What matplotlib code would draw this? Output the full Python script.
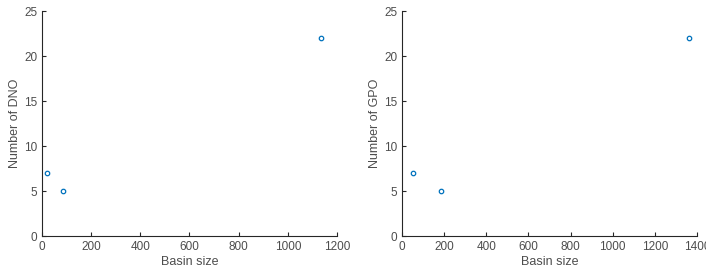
import matplotlib
matplotlib.use("Agg")
import matplotlib.pyplot as plt

plt.rcParams['font.family'] = ['Liberation Sans', 'DejaVu Sans']

# basin size vs number of DNO / GPO
dno_size = [20, 87, 1133]
dno_count = [7, 5, 22]
gpo_size = [52, 185, 1360]
gpo_count = [7, 5, 22]

grey = '#4d4d4d'
blue = '#0072BD'

fig = plt.figure(figsize=(7.06, 2.73), dpi=100)
ax1 = fig.add_axes([0.0595, 0.1355, 0.4178, 0.8242])
ax2 = fig.add_axes([0.5694, 0.1355, 0.4179, 0.8242])


def style(ax, x, y, ylabel, xmax, xticks):
    ax.plot(x, y, 'o', mfc='none', mec=blue, ms=3.2, mew=0.9)
    ax.set_xlim(0, xmax)
    ax.set_ylim(0, 25)
    ax.set_xticks(xticks)
    ax.set_yticks([0, 5, 10, 15, 20, 25])
    ax.spines['top'].set_visible(False)
    ax.spines['right'].set_visible(False)
    for s in ['left', 'bottom']:
        ax.spines[s].set_color('#262626')
        ax.spines[s].set_linewidth(0.8)
    ax.tick_params(direction='in', length=3, width=0.8, colors='#262626',
                   labelcolor=grey, labelsize=8.5)
    ax.set_xlabel('Basin size', color=grey, fontsize=9, labelpad=2)
    ax.set_ylabel(ylabel, color=grey, fontsize=9, labelpad=2)


style(ax1, dno_size, dno_count, 'Number of DNO', 1200, range(0, 1201, 200))
style(ax2, gpo_size, gpo_count, 'Number of GPO', 1400, range(0, 1401, 200))

fig.savefig('out.png', dpi=100)
